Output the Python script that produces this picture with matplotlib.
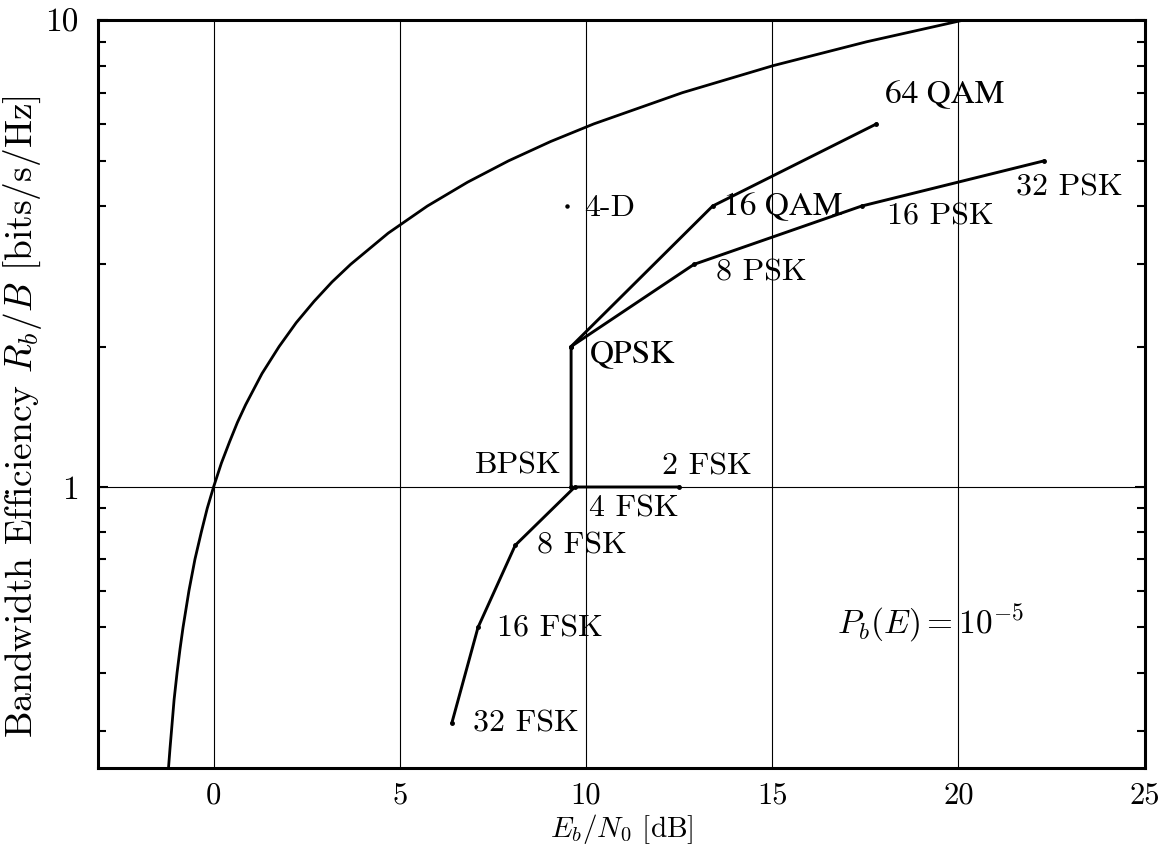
import numpy as np
import matplotlib.pyplot as plt
from matplotlib.ticker import FixedLocator, NullFormatter, FixedFormatter

plt.rcParams['font.family'] = ['cmr10', 'DejaVu Serif']
plt.rcParams['mathtext.fontset'] = 'cm'
plt.rcParams['axes.formatter.use_mathtext'] = True

# Shannon bound: Eb/N0 [dB] vs bits/s/Hz
shannon_db = [-1.21, -1.17, -1.13, -1.06, -0.98, -0.90, -0.82, -0.66, -0.50, -0.33, -0.17, 0.0,
              0.21, 0.43, 0.64, 0.86, 1.30, 1.76, 2.22, 2.70, 3.18, 3.68, 4.69, 5.74,
              6.82, 7.92, 9.05, 10.21, 12.59, 15.03, 17.54, 20.10]
shannon_eff = [0.25, 0.275, 0.3, 0.35, 0.4, 0.45, 0.5, 0.6, 0.7, 0.8, 0.9, 1.0,
               1.125, 1.25, 1.375, 1.5, 1.75, 2.0, 2.25, 2.5, 2.75, 3.0, 3.5, 4.0,
               4.5, 5.0, 5.5, 6.0, 7.0, 8.0, 9.0, 10.0]

# modulation schemes at Pb(E)=1e-5
psk_names = ['BPSK', 'QPSK', '8 PSK', '16 PSK', '32 PSK']
psk_db = [9.6, 9.6, 12.9, 17.4, 22.3]
psk_eff = [1.0, 2.0, 3.0, 4.0, 5.0]

qam_names = ['16 QAM', '64 QAM']
qam_db = [13.4, 17.8]
qam_eff = [4.0, 6.0]

fsk_names = ['2 FSK', '4 FSK', '8 FSK', '16 FSK', '32 FSK']
fsk_db = [12.5, 9.7, 8.1, 7.1, 6.4]
fsk_eff = [1.0, 1.0, 0.75, 0.5, 0.3125]

fourd_db = 9.5
fourd_eff = 4.0

fig = plt.figure(figsize=(11.68, 8.49), dpi=100)
ax = fig.add_axes([0.084, 0.0955, 0.896, 0.8805])

for x in [0, 5, 10, 15, 20]:
    ax.axvline(x, color='black', lw=0.8, zorder=1)
ax.axhline(1, color='black', lw=0.8, zorder=1)

ax.plot(shannon_db, shannon_eff, color='black', lw=2.0, zorder=3)

lw = 2.1
ax.plot(psk_db, psk_eff, color='black', lw=lw, marker='o', ms=2.5, zorder=3)
ax.plot([psk_db[1]] + qam_db, [psk_eff[1]] + qam_eff, color='black', lw=lw,
        marker='o', ms=2.5, zorder=3)
ax.plot(fsk_db, fsk_eff, color='black', lw=lw, marker='o', ms=2.5, zorder=3)
ax.plot([fourd_db], [fourd_eff], 'ko', ms=2.2, zorder=3)

fs = 23
# label offsets in pixels (dx, dy, ha)
psk_off = [(-10, 21, 'right'), (19, -8, 'left'), (22, -8, 'left'), (25, -11, 'left'), (-28, -27, 'left')]
qam_off = [(10, -1, 'left'), (9, 28, 'left')]
fsk_off = [(-17, 20, 'left'), (14, -22, 'left'), (22, 0, 'left'), (19, -1, 'left'), (21, -1, 'left')]

for names, xs, ys, offs in [(psk_names, psk_db, psk_eff, psk_off),
                            (qam_names, qam_db, qam_eff, qam_off),
                            (fsk_names, fsk_db, fsk_eff, fsk_off)]:
    for n, x, y, (dx, dy, ha) in zip(names, xs, ys, offs):
        # the cmr10 'Q' tail renders detached, so Q labels use STIX
        fam = ['STIXGeneral', 'DejaVu Serif'] if 'Q' in n else None
        ax.annotate(n, (x, y), xytext=(dx, dy), textcoords='offset pixels',
                    ha=ha, va='center', fontsize=fs + (1 if fam else 0), family=fam)
ax.annotate('4-D', (fourd_db, fourd_eff), xytext=(17, -2), textcoords='offset pixels',
            ha='left', va='center', fontsize=fs)

ax.text(16.75, 0.51, r'$P_b(E) = 10^{-5}$', fontsize=24, ha='left', va='center')

ax.set_yscale('log')
ax.set_xlim(-3.1, 25)
ax.set_ylim(0.25, 10)

ax.xaxis.set_major_locator(FixedLocator([0, 5, 10, 15, 20, 25]))
ax.set_xticklabels(['0', '5', '10', '15', '20', '25'])
ax.tick_params(axis='x', length=0, pad=10, labelsize=22)

ax.yaxis.set_major_locator(FixedLocator([1, 10]))
ax.yaxis.set_major_formatter(FixedFormatter(['1', '10']))
minors = [0.3, 0.4, 0.5, 0.6, 0.7, 0.8, 0.9, 2, 3, 4, 5, 6, 7, 8, 9]
ax.yaxis.set_minor_locator(FixedLocator(minors))
ax.yaxis.set_minor_formatter(NullFormatter())
ax.tick_params(axis='y', which='both', direction='in', left=True, right=True,
               labelsize=24, pad=14)
ax.tick_params(axis='y', which='major', length=7, width=1.5)
ax.tick_params(axis='y', which='minor', length=6, width=1.5)

for s in ax.spines.values():
    s.set_linewidth(2.2)

ax.set_xlabel(r'$E_b/N_0$ [dB]', fontsize=21, labelpad=2)
ax.set_ylabel(r'Bandwidth Efficiency $R_b/B$ [bits/s/Hz]', fontsize=27)
ax.yaxis.set_label_coords(-0.052, 0.47)

fig.savefig('out.png', dpi=100)
